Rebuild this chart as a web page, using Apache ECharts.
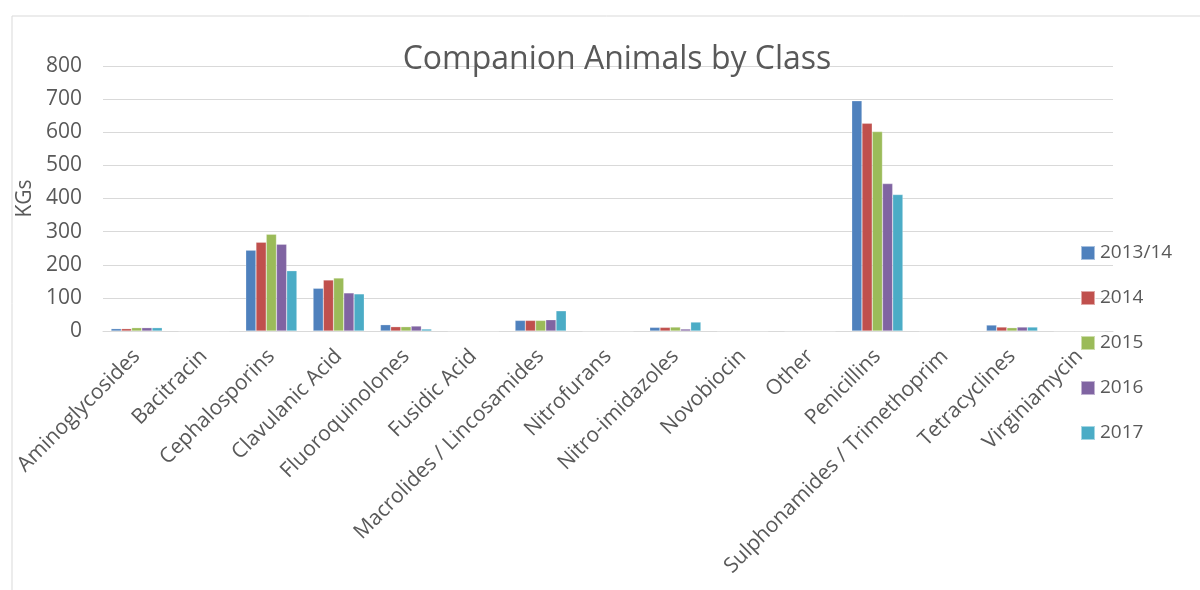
<!DOCTYPE html>
<html>
<head>
<meta charset="utf-8">
<script src="https://cdn.jsdelivr.net/npm/echarts@6/dist/echarts.min.js"></script>
<style>
  html, body { margin: 0; padding: 0; background: #fff; }
  #chart { width: 1200px; height: 590px; }
</style>
</head>
<body>
<div id="chart"></div>
<script>
// Antimicrobial classes sold for companion animals (KGs)
const categories = [
  'Aminoglycosides', 'Bacitracin', 'Cephalosporins', 'Clavulanic Acid',
  'Fluoroquinolones', 'Fusidic Acid', 'Macrolides / Lincosamides', 'Nitrofurans',
  'Nitro-imidazoles', 'Novobiocin', 'Other', 'Penicillins',
  'Sulphonamides / Trimethoprim', 'Tetracyclines', 'Virginiamycin'
];
const seriesNames = ['2013/14', '2014', '2015', '2016', '2017'];
const v2013_14 = [7, 0, 244, 129, 19, 0, 32, 0, 11, 0, 0, 695, 0, 18, 0];
const v2014    = [7, 0, 268, 154, 13, 0, 32, 0, 11, 0, 0, 627, 0, 12, 0];
const v2015    = [10, 0, 292, 160, 13, 0, 32, 0, 12, 0, 0, 602, 0, 10, 0];
const v2016    = [10, 0, 262, 115, 15, 0, 34, 0, 6, 0, 0, 445, 0, 12, 0];
const v2017    = [10, 0, 182, 112, 6, 0, 61, 0, 27, 0, 0, 412, 0, 12, 0];
const yTicks = [0, 100, 200, 300, 400, 500, 600, 700, 800];

const palette = ['#4F81BD', '#C0504D', '#9BBB59', '#8064A2', '#4BACC6'];
const values = [v2013_14, v2014, v2015, v2016, v2017];
const textColor = '#595959';
const fontFamily = '"Open Sans", Lato, "Liberation Sans", sans-serif';

const chart = echarts.init(document.getElementById('chart'), null, { renderer: 'canvas' });
chart.setOption({
  animation: false,
  backgroundColor: '#ffffff',
  color: palette,
  graphic: [{
    type: 'rect',
    left: 9.5, top: 13.5,
    shape: { width: 1200, height: 600 },
    style: { fill: 'none', stroke: '#d9d9d9', lineWidth: 1 },
    silent: true, z: -1
  }],
  title: {
    text: 'Companion Animals by Class',
    left: 612, top: 39,
    textAlign: 'center',
    textStyle: { fontFamily, fontSize: 32, fontWeight: 'normal', color: textColor }
  },
  legend: {
    orient: 'vertical',
    left: 1080, top: 242,
    padding: 0,
    itemWidth: 14, itemHeight: 14,
    itemGap: 23,
    icon: 'rect',
    textStyle: { fontFamily, fontSize: 19, lineHeight: 22, color: textColor },
    data: seriesNames
  },
  grid: { left: 103, right: 87, top: 66, bottom: 259, containLabel: false },
  xAxis: {
    type: 'category',
    data: categories,
    axisLine: { lineStyle: { color: '#d9d9d9', width: 1 } },
    axisTick: { show: false },
    axisLabel: {
      rotate: 45, interval: 0, margin: 22,
      fontFamily, fontSize: 21, color: textColor
    }
  },
  yAxis: {
    type: 'value',
    min: yTicks[0], max: yTicks[yTicks.length - 1], interval: 100,
    name: 'KGs', nameLocation: 'middle', nameGap: 63, nameRotate: 90,
    nameTextStyle: { fontFamily, fontSize: 21, color: textColor },
    axisLine: { show: false },
    axisTick: { show: false },
    axisLabel: { margin: 21, fontFamily, fontSize: 21, color: textColor },
    splitLine: { lineStyle: { color: '#d9d9d9', width: 1 } }
  },
  series: seriesNames.map((name, i) => ({
    name,
    type: 'bar',
    data: values[i],
    barGap: '0%',
    barCategoryGap: '24%',
    itemStyle: { color: palette[i], borderColor: 'rgba(255,255,255,0.5)', borderWidth: 0.5 }
  }))
});
</script>
</body>
</html>
